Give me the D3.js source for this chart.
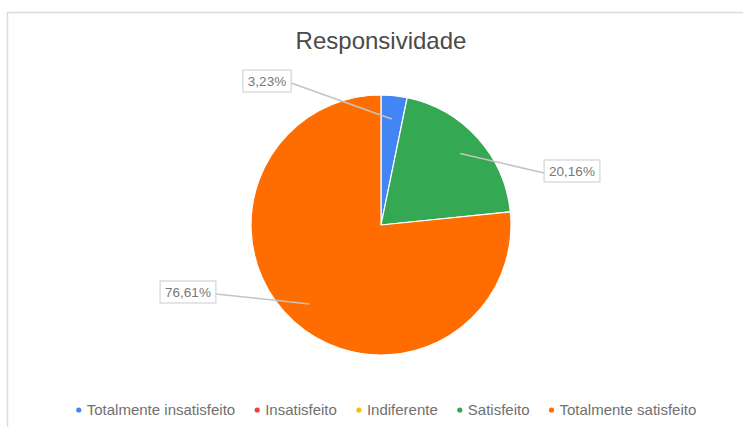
<!DOCTYPE html>
<html>
<head>
<meta charset="utf-8">
<script src="https://cdn.jsdelivr.net/npm/d3@7"></script>
<style>
html,body{margin:0;padding:0;background:#fff;}
svg{display:block;}
</style>
</head>
<body>
<svg id="chart" width="743" height="427"></svg>
<script>
const title = "Responsividade";
const categories = ["Totalmente insatisfeito", "Insatisfeito", "Indiferente", "Satisfeito", "Totalmente satisfeito"];
const values = [3.23, 0, 0, 20.16, 76.61];
const valueLabels = ["3,23%", "", "", "20,16%", "76,61%"];
const colors = ["#4285f4", "#ea4335", "#fbbc04", "#34a853", "#ff6d01"];

// layout (not data)
const W = 743, H = 427;
const cx = 381, cy = 225, R = 130;
const labelBoxCenters = {0: [267, 81], 3: [572, 171], 4: [188, 292]};
const font = "'Liberation Sans', Arial, sans-serif";

const svg = d3.select("#chart");
svg.append("rect").attr("width", W).attr("height", H).attr("fill", "#fff");
// frame
svg.append("path").attr("d", `M7.5,${H} V12.5 H${W}`).attr("fill", "none").attr("stroke", "#dcdcdc").attr("stroke-width", 1.5);

svg.append("text").attr("x", cx).attr("y", 49).attr("text-anchor", "middle")
  .attr("font-family", font).attr("font-size", 24).attr("fill", "#4a4a4a").text(title);

const pie = d3.pie().sort(null).value(d => d);
const arcs = pie(values);
const arc = d3.arc().innerRadius(0).outerRadius(R);
const g = svg.append("g").attr("transform", `translate(${cx},${cy})`);
g.selectAll("path.slice").data(arcs.filter(a => a.value > 0)).join("path")
  .attr("class", "slice")
  .attr("d", arc)
  .attr("fill", (d) => colors[d.index])
  .attr("stroke", "#fff").attr("stroke-width", 1.2).attr("stroke-linejoin", "round");

// labels
const anchorArc = d3.arc().innerRadius(R * 0.82).outerRadius(R * 0.82);
const lg = svg.append("g");
arcs.forEach((a, i) => {
  if (!(a.value > 0) || !labelBoxCenters[i]) return;
  const [bx, by] = labelBoxCenters[i];
  const [ax0, ay0] = anchorArc.centroid(a);
  const ax = ax0 + cx, ay = ay0 + cy;
  const t = lg.append("text").attr("x", bx).attr("y", by + 5).attr("text-anchor", "middle")
    .attr("font-family", font).attr("font-size", 13.5).attr("fill", "#777").text(valueLabels[i]);
  const tw = t.node().getComputedTextLength();
  const bw = tw + 10, bh = 22;
  const left = bx - bw / 2, right = bx + bw / 2;
  const sx = ax > bx ? right : left;
  lg.insert("line", "text").attr("x1", sx).attr("y1", by + 2).attr("x2", ax).attr("y2", ay)
    .attr("stroke", "#c4c4c4").attr("stroke-width", 1.5);
  lg.insert("rect", "text").attr("x", left).attr("y", by - bh / 2).attr("width", bw).attr("height", bh)
    .attr("fill", "#fff").attr("stroke", "#d4d4d4").attr("stroke-width", 1.2);
});

// legend
const leg = svg.append("g");
const legY = 411;
const items = [];
const gap = 22;
let x = 0;
categories.forEach((c, i) => {
  const it = leg.append("g");
  it.append("circle").attr("cx", 0).attr("cy", legY - 1).attr("r", 2.6).attr("fill", colors[i]);
  const t = it.append("text").attr("x", 8).attr("y", legY + 4).attr("font-family", font)
    .attr("font-size", 15).attr("fill", "#707070").text(c);
  const w = 8 + t.node().getComputedTextLength();
  items.push({it, x, w});
  x += w + gap;
});
const total = x - gap;
const start = 387.5 - total / 2;
items.forEach(d => d.it.attr("transform", `translate(${start + d.x},0)`));
</script>
</body>
</html>
